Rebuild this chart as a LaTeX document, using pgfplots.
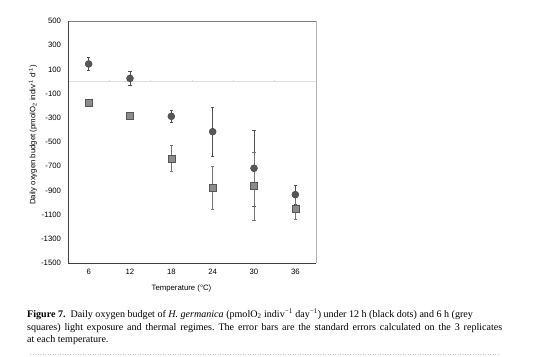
\documentclass[border=0pt]{standalone}
\usepackage{pgfplots}
\pgfplotsset{compat=1.18}
\usepackage{fontspec}
\setmainfont{Liberation Serif}
\newfontfamily\arial{Liberation Sans}
\frenchspacing
\definecolor{circfill}{HTML}{575757}
\definecolor{circedge}{HTML}{404040}
\definecolor{sqfill}{HTML}{8C8C8C}
\definecolor{sqedge}{HTML}{555555}
\definecolor{errcol}{HTML}{505050}
\definecolor{zeroline}{HTML}{DDDDDD}
\pgfplotstableread{
x y e
0 145 55
1 26 57
2 -288 50
3 -415 200
4 -717 313
5 -935 80
}\circdata
\pgfplotstableread{
x y e
0 -175 22
1 -282 10
2 -635 107
3 -877 179
4 -864 280
5 -1048 90
}\sqdata
\begin{document}
\begin{tikzpicture}
\useasboundingbox (0bp,0bp) rectangle (554bp,-357bp);
\begin{axis}[
  at={(68bp,-263bp)}, anchor=south west,
  scale only axis, width=248bp, height=242bp,
  xmin=-0.5, xmax=5.5, ymin=-1500, ymax=500,
  xtick={0,1,2,3,4,5}, xticklabels={6,12,18,24,30,36},
  ytick={-1500,-1300,-1100,-900,-700,-500,-300,-100,100,300,500},
  yticklabels={-1500,-1300,-1100,-900,-700,-500,-300,-100,100,300,500},
  tick style={draw=none},
  axis line style={draw=none},
  ticklabel style={font=\arial\fontsize{7.8}{9}\selectfont},
  yticklabel style={xshift=-3.5bp},
  xticklabel style={yshift=-3bp},
  clip=false,
]
\draw[zeroline, line width=0.8bp] (axis cs:-0.5,0) -- (axis cs:5.5,0);
\draw[zeroline, line width=0.6bp] (axis cs:0.5,0) -- ++(0bp,2bp);
\draw[zeroline, line width=0.6bp] (axis cs:1.5,0) -- ++(0bp,2bp);
\draw[zeroline, line width=0.6bp] (axis cs:2.5,0) -- ++(0bp,2bp);
\draw[zeroline, line width=0.6bp] (axis cs:3.5,0) -- ++(0bp,2bp);
\draw[zeroline, line width=0.6bp] (axis cs:4.5,0) -- ++(0bp,2bp);
\draw[color=gray!60, line width=0.8bp] (rel axis cs:1,0) -- (rel axis cs:1,1);
\draw[color=gray, line width=0.8bp] (rel axis cs:0,1) -- (rel axis cs:1,1);
\draw[color=black!75, line width=0.8bp] (rel axis cs:0,1) -- (rel axis cs:0,0) -- (rel axis cs:1,0);
\addplot[only marks, mark=*, mark size=3.5bp,
  mark options={fill=circfill, draw=circedge, line width=0.4bp},
  error bars/.cd, y dir=both, y explicit,
  error bar style={color=errcol, line width=0.6bp},
  error mark options={rotate=90, mark size=1.8bp, color=errcol, line width=0.5bp}]
  table[x=x, y=y, y error=e]{\circdata};
\addplot[only marks, mark=square*, mark size=3.5bp,
  mark options={fill=sqfill, draw=sqedge, line width=0.4bp},
  error bars/.cd, y dir=both, y explicit,
  error bar style={color=errcol!80, line width=0.6bp},
  error mark options={rotate=90, mark size=1.8bp, color=errcol!80, line width=0.5bp}]
  table[x=x, y=y, y error=e]{\sqdata};
\end{axis}
\node[rotate=90, font=\arial\fontsize{7.8}{9}\selectfont] at (33bp,-135bp)
  {Daily oxygen budget (pmolO\textsubscript{2} indiv\textsuperscript{-1} d\textsuperscript{-1})};
\node[font=\arial\fontsize{7.8}{9}\selectfont] at (181.5bp,-288bp) {Temperature (°C)};
\begin{scope}[every node/.style={anchor=base west, inner sep=0pt, font=\fontsize{10.1}{12.7}\selectfont}]
\node at (27bp,-317bp) {\textbf{Figure 7.}\enspace Daily oxygen budget of \textit{H. germanica} (pmolO\textsubscript{2} indiv\textsuperscript{−1} day\textsuperscript{−1}) under 12 h (black dots) and 6 h (grey};
\node at (27bp,-330bp) {\makebox[475bp][s]{squares) light exposure and thermal regimes. The error bars are the standard errors calculated on the 3 replicates}};
\node at (27bp,-342.7bp) {at each temperature.};
\end{scope}
\draw[gray!45, line width=0.5bp, dash pattern=on 0.5bp off 2bp] (30bp,-354bp) -- (500bp,-354bp);
\end{tikzpicture}
\end{document}
